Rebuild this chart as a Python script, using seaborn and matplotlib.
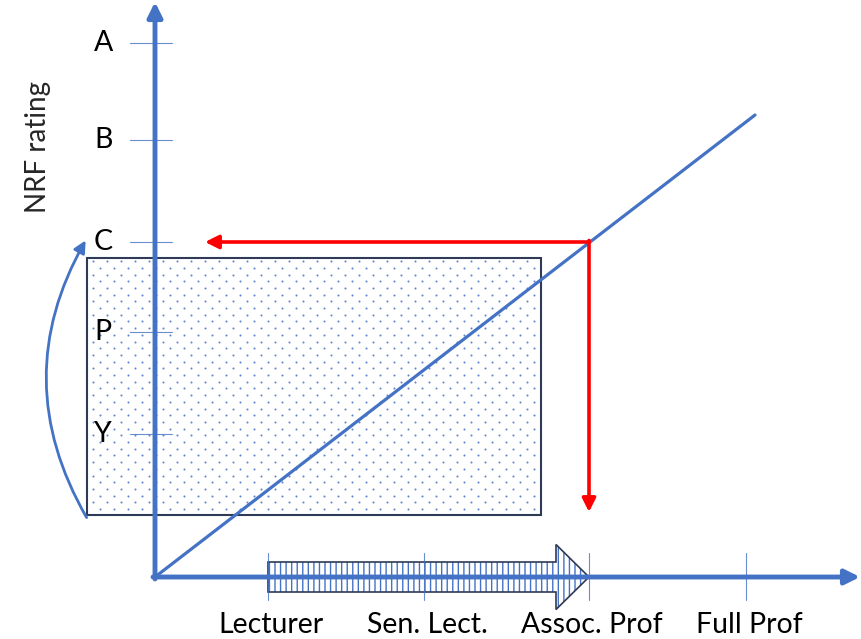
import numpy as np
import pandas as pd
import seaborn as sns
import matplotlib.pyplot as plt
from matplotlib.patches import Rectangle, FancyArrow, FancyArrowPatch

# 职称（横轴）及其位置
ranks = ['Lecturer', 'Sen. Lect.', 'Assoc. Prof', 'Full Prof']
rank_x = [1.13, 2.69, 4.34, 5.91]
# NRF 评级（纵轴）及其位置
grades = ['A', 'B', 'C', 'P', 'Y']
grade_y = [5.34, 4.37, 3.35, 2.45, 1.43]
# 趋势线
trend_x = [0.0, 6.0]
trend_y = [0.0, 4.62]
# 阴影框范围 (x0, x1, y0, y1)
box_x = [-0.68, 3.86]
box_y = [0.62, 3.19]

blue = '#4472C4'
navy = '#2E3A56'
red = '#FF0000'

sns.set_theme(style='white')
plt.rcParams['font.family'] = ['Lato', 'DejaVu Sans']
plt.rcParams['hatch.linewidth'] = 1.0

fig = plt.figure(figsize=(8.62, 6.39), dpi=100)
ax = fig.add_axes([0, 0, 1, 1])

# 点状阴影框
ax.add_patch(Rectangle((box_x[0], box_y[0]), box_x[1] - box_x[0], box_y[1] - box_y[0],
                       facecolor='white', edgecolor='none', zorder=1))
gx, gy = np.meshgrid(np.arange(box_x[0] + 0.06, box_x[1] - 0.03, 0.14),
                     np.arange(box_y[0] + 0.06, box_y[1] - 0.03, 0.067))
shift = (np.round((gy - box_y[0]) / 0.067).astype(int) % 2) * 0.07
dots = pd.DataFrame({'x': (gx + shift).ravel(), 'y': gy.ravel()})
dots = dots[dots['x'] < box_x[1] - 0.03]
sns.scatterplot(data=dots, x='x', y='y', s=2.2, color=blue, alpha=0.85, linewidth=0,
                ax=ax, zorder=2)
ax.add_patch(Rectangle((box_x[0], box_y[0]), box_x[1] - box_x[0], box_y[1] - box_y[0],
                       fill=False, edgecolor=navy, lw=1.5, zorder=3))

# 横向条纹箭头 Lecturer -> Assoc. Prof
arrow_kw = dict(x=rank_x[0], y=0, dx=rank_x[2] - rank_x[0], dy=0, width=0.30,
                head_width=0.65, head_length=0.33, length_includes_head=True)
ax.add_patch(FancyArrow(**arrow_kw, facecolor='white', edgecolor=blue, lw=0,
                        hatch='|||', zorder=4))
ax.add_patch(FancyArrow(**arrow_kw, fill=False, edgecolor=navy, lw=1.2, zorder=5))

# 坐标轴
ax.annotate('', xy=(0, 5.75), xytext=(0, -0.02),
            arrowprops=dict(arrowstyle='-|>', lw=3.5, color=blue, mutation_scale=22,
                            shrinkA=0, shrinkB=0), zorder=6)
ax.annotate('', xy=(7.05, 0), xytext=(-0.02, 0),
            arrowprops=dict(arrowstyle='-|>', lw=3.5, color=blue, mutation_scale=22,
                            shrinkA=0, shrinkB=0), zorder=6)

# 刻度线和标签
for g, y in zip(grades, grade_y):
    ax.plot([-0.25, 0.17], [y, y], color=blue, lw=0.8, alpha=0.8, zorder=7)
    ax.text(-0.61, y, g, fontsize=20.5, ha='left', va='center', color='black', zorder=8)
for r, x in zip(ranks, rank_x):
    ax.plot([x, x], [-0.23, 0.24], color=blue, lw=0.8, alpha=0.8, zorder=7)
    ax.text(x + 0.03, -0.48, r, fontsize=20.5, ha='center', va='center', color='black',
            zorder=8)

ax.text(-1.17, 4.30, 'NRF rating', fontsize=20, rotation=90, ha='center', va='center')

# 趋势线
trend = pd.DataFrame({'x': trend_x, 'y': trend_y})
sns.lineplot(data=trend, x='x', y='y', color=blue, lw=2.3, ax=ax, zorder=9)

# 红色读数箭头
px, py = rank_x[2], grade_y[2]
ax.annotate('', xy=(0.5, py), xytext=(px, py),
            arrowprops=dict(arrowstyle='-|>', lw=2.6, color=red, mutation_scale=20,
                            shrinkA=0, shrinkB=0), zorder=10)
ax.annotate('', xy=(px, 0.65), xytext=(px, py + 0.015),
            arrowprops=dict(arrowstyle='-|>', lw=2.6, color=red, mutation_scale=20,
                            shrinkA=0, shrinkB=0), zorder=10)

# 左侧弯曲箭头
ax.add_patch(FancyArrowPatch((-0.67, 0.57), (-0.68, 3.39), connectionstyle='arc3,rad=-0.29',
                             arrowstyle='-|>', mutation_scale=18, lw=2, color=blue, zorder=6))

ax.set_xlim(-1.55, 7.07)
ax.set_ylim(-0.62, 5.77)
ax.axis('off')

fig.savefig('out.png', dpi=100)
